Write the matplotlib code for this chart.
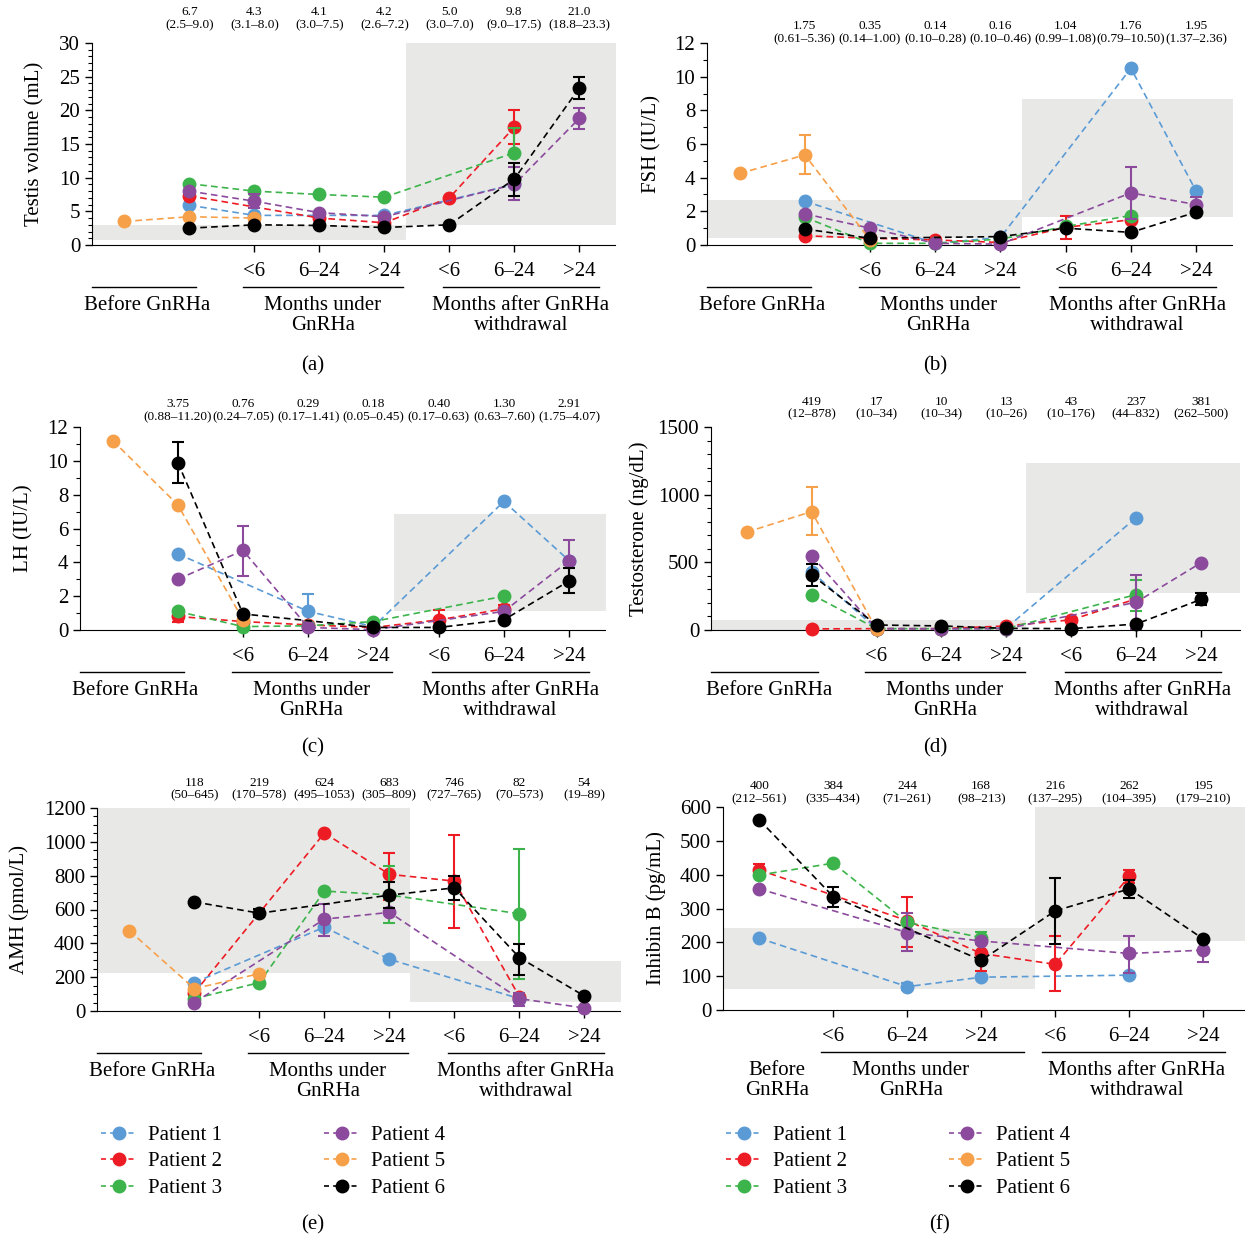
import matplotlib.pyplot as plt
import matplotlib.transforms as mtransforms
from matplotlib.lines import Line2D
from matplotlib.ticker import MultipleLocator

plt.rcParams['font.family'] = ['Liberation Serif', 'DejaVu Serif']

W, H = 1245, 1240

positions = [0, 1, 2, 3, 4, 5, 6, 7]
tick_pos = [2, 3, 4, 5, 6, 7]
tick_labels = ["<6", "6–24", ">24", "<6", "6–24", ">24"]
patients = ["Patient 1", "Patient 2", "Patient 3", "Patient 4", "Patient 5", "Patient 6"]
colors = ["#5b9bd5", "#ed1c24", "#3cb44b", "#8b4a9c", "#f7a04a", "#000000"]

N = None

# ---------- (a) testis volume ----------
testis_vol = [
    [N, 5.9, 4.4, N, 4.4, N, 9.0, N],
    [N, 7.3, N, 4.0, 3.3, 7.0, 17.5, N],
    [N, 9.1, 8.0, 7.5, 7.1, N, 13.7, N],
    [N, 8.0, 6.5, 4.8, 4.2, N, 9.0, 18.8],
    [3.5, 4.2, 4.0, N, N, N, N, N],
    [N, 2.5, 3.0, 2.9, 2.6, 3.0, 9.8, 23.3],
]
testis_err = [(1, 6, 15.0, 20.0), (2, 6, 13.7, 17.4), (3, 2, 5.5, 7.6), (3, 6, 6.7, 11.6),
              (3, 7, 17.3, 20.3), (5, 6, 7.3, 12.2), (5, 7, 21.7, 25.0)]
testis_summary = ["6.7\n(2.5–9.0)", "4.3\n(3.1–8.0)", "4.1\n(3.0–7.5)", "4.2\n(2.6–7.2)",
                  "5.0\n(3.0–7.0)", "9.8\n(9.0–17.5)", "21.0\n(18.8–23.3)"]
testis_ref = [(-0.5, 4.33, 0.7, 3.0), (4.33, 7.6, 2.9, 30)]

# ---------- (b) FSH ----------
fsh = [
    [N, 2.6, N, 0.1, 0.45, N, 10.5, 3.2],
    [N, 0.55, 0.4, 0.3, 0.15, 1.05, 1.5, N],
    [N, 1.65, 0.1, 0.1, 0.35, 1.1, 1.75, N],
    [N, 1.85, 1.0, 0.1, 0.05, N, 3.1, 2.4],
    [4.25, 5.35, 0.3, N, N, N, N, N],
    [N, 0.95, 0.4, N, 0.5, 1.0, 0.75, 1.95],
]
fsh_err = [(4, 1, 4.2, 6.55), (1, 5, 0.35, 1.75), (3, 6, 1.55, 4.65), (3, 7, 2.0, 2.85)]
fsh_summary = ["1.75\n(0.61–5.36)", "0.35\n(0.14–1.00)", "0.14\n(0.10–0.28)", "0.16\n(0.10–0.46)",
               "1.04\n(0.99–1.08)", "1.76\n(0.79–10.50)", "1.95\n(1.37–2.36)"]
fsh_ref = [(-0.5, 4.33, 0.4, 2.7), (4.33, 7.6, 1.65, 8.65)]

# ---------- (c) LH ----------
lh = [
    [N, 4.5, N, 1.1, 0.2, N, 7.6, 4.1],
    [N, 0.8, 0.5, 0.3, 0.15, 0.6, 1.25, N],
    [N, 1.1, 0.2, 0.25, 0.5, N, 2.0, N],
    [N, 3.0, 4.7, 0.15, 0.02, N, 1.1, 4.1],
    [11.2, 7.4, 0.6, N, N, N, N, N],
    [N, 9.9, 0.95, N, 0.15, 0.15, 0.6, 2.9],
]
lh_err = [(5, 1, 8.7, 11.1), (5, 7, 2.2, 3.65), (3, 2, 3.2, 6.15), (3, 7, 2.9, 5.3),
          (0, 3, 0.15, 2.1), (1, 1, 0.5, 1.1), (1, 5, 0.1, 1.2), (1, 6, 1.05, 1.5)]
lh_summary = ["3.75\n(0.88–11.20)", "0.76\n(0.24–7.05)", "0.29\n(0.17–1.41)", "0.18\n(0.05–0.45)",
              "0.40\n(0.17–0.63)", "1.30\n(0.63–7.60)", "2.91\n(1.75–4.07)"]
lh_ref = [(4.31, 7.6, 1.15, 6.85)]

# ---------- (d) testosterone ----------
testo = [
    [N, 430, 10, 10, 15, N, 830, N],
    [N, 8, 10, 10, 30, 75, 230, N],
    [N, 262, 10, 10, 10, N, 262, N],
    [N, 548, 10, 8, 10, N, 205, 497],
    [723, 875, 5, N, N, N, N, N],
    [N, 408, 37, 30, 12, 10, 44, 226],
]
testo_err = [(4, 1, 700, 1055), (5, 1, 325, 490), (5, 7, 185, 275), (3, 6, 10, 405), (2, 6, 140, 370)]
testo_summary = ["419\n(12–878)", "17\n(10–34)", "10\n(10–34)", "13\n(10–26)",
                 "43\n(10–176)", "237\n(44–832)", "381\n(262–500)"]
testo_ref = [(-0.55, 4.3, 0, 75), (4.3, 7.6, 270, 1237)]

# ---------- (e) AMH ----------
amh = [
    [N, 168, N, 496, 306, N, 73, N],
    [N, 108, N, 1052, 808, 768, 85, N],
    [N, 73, 168, 709, 686, N, 575, N],
    [N, 50, N, 543, 583, N, 73, 18],
    [474, 132, 221, N, N, N, N, N],
    [N, 645, 578, N, 685, 728, 316, 89],
]
amh_err = [(5, 2, 555, 605), (5, 4, 610, 760), (5, 5, 655, 800), (5, 6, 215, 395),
           (1, 4, 655, 935), (1, 5, 490, 1040), (2, 4, 520, 855), (2, 6, 190, 955),
           (3, 3, 445, 635), (3, 6, 30, 105)]
amh_summary = ["118\n(50–645)", "219\n(170–578)", "624\n(495–1053)", "683\n(305–809)",
               "746\n(727–765)", "82\n(70–573)", "54\n(19–89)"]
amh_ref = [(-0.5, 4.32, 223, 1200), (4.32, 7.6, 53, 294)]

# ---------- (f) inhibin B ----------
inhb = [
    [N, 212, N, 69, 97, N, 103, N],
    [N, 414, N, 264, 167, 135, 395, N],
    [N, 399, 434, 259, 214, N, N, N],
    [N, 358, N, 229, 204, N, 167, 177],
    [N, N, N, N, N, N, N, N],
    [N, 562, 335, N, 147, 293, 358, 210],
]
inhb_err = [(5, 2, 305, 365), (5, 5, 195, 390), (5, 6, 332, 383), (1, 1, 400, 432),
            (1, 3, 185, 335), (1, 4, 115, 168), (1, 5, 55, 218), (1, 6, 375, 415),
            (3, 3, 175, 288), (3, 6, 110, 220), (3, 7, 143, 180), (2, 4, 195, 232), (0, 3, 58, 80)]
inhb_summary = ["400\n(212–561)", "384\n(335–434)", "244\n(71–261)", "168\n(98–213)",
                "216\n(137–295)", "262\n(104–395)", "195\n(179–210)"]
inhb_ref = [(0.5, 4.73, 62, 243), (4.73, 7.6, 205, 600)]


fig = plt.figure(figsize=(W / 100, H / 100), dpi=100)


def make_axes(left, top, right, bottom):
    return fig.add_axes([left / W, 1 - bottom / H, (right - left) / W, (bottom - top) / H])


def panel(box, rows, errs, summary, refs, ylabel, ylim, major, minor, xlim, ylab_x, summ_off,
          before_at=0.35):
    ax = make_axes(*box)
    h_px = box[3] - box[1]
    for x0, x1, y0, y1 in refs:
        ax.fill_between([x0, x1], y0, y1, color="#e8e8e6", lw=0, zorder=0)
    for i, row in enumerate(rows):
        xs = [p for p, v in zip(positions, row) if v is not None]
        ys = [v for v in row if v is not None]
        if not xs:
            continue
        ax.plot(xs, ys, ls=(0, (4, 2.5)), lw=1.2, color=colors[i], marker='o', ms=9,
                zorder=3 + i, clip_on=False)
    for i, p, lo, hi in errs:
        v = rows[i][p]
        ax.errorbar(p, v, yerr=[[v - lo], [hi - v]], fmt='none', ecolor=colors[i],
                    elinewidth=1.5, capsize=4.5, capthick=1.5, zorder=3 + i)
    ax.set_xlim(*xlim)
    ax.set_ylim(*ylim)
    ax.yaxis.set_major_locator(MultipleLocator(major))
    if minor:
        ax.yaxis.set_minor_locator(MultipleLocator(minor))
    ax.set_xticks(tick_pos)
    ax.set_xticklabels(tick_labels, fontsize=15)
    ax.tick_params(axis='y', labelsize=15, length=5, width=1)
    ax.tick_params(axis='y', which='minor', length=3, width=0.8)
    ax.tick_params(axis='x', length=5, width=1, pad=7)
    for s in ['top', 'right']:
        ax.spines[s].set_visible(False)
    ax.set_ylabel(ylabel, fontsize=15)
    ax.yaxis.set_label_coords((ylab_x - box[0]) / (box[2] - box[0]), 0.5)

    trans = mtransforms.blended_transform_factory(ax.transData, ax.transAxes)
    for p, s in zip(range(1, 8), summary):
        ax.text(p, 1 + summ_off / h_px, s, transform=trans, ha='center', va='center',
                fontsize=9.5, linespacing=1.1)

    y_line = -42 / h_px
    y_txt = -51 / h_px
    if before_at < 1:
        ax.plot([xlim[0], 1.1], [y_line, y_line], transform=trans, color='black', lw=1, clip_on=False)
        ax.text(before_at, y_txt, "Before GnRHa", transform=trans, ha='center', va='top', fontsize=15)
        under_end, after_start = 4.29, 4.9
    else:
        ax.text(before_at, y_txt, "Before\nGnRHa", transform=trans, ha='center', va='top', fontsize=15,
                linespacing=1.05)
        under_end, after_start = 4.58, 4.82
    ax.plot([1.83, under_end], [y_line, y_line], transform=trans, color='black', lw=1, clip_on=False)
    ax.plot([after_start, 7.3], [y_line, y_line], transform=trans, color='black', lw=1, clip_on=False)
    ax.text(3.05, y_txt, "Months under\nGnRHa", transform=trans, ha='center', va='top', fontsize=15,
            linespacing=1.05)
    ax.text(6.1, y_txt, "Months after GnRHa\nwithdrawal", transform=trans, ha='center', va='top', fontsize=15,
            linespacing=1.05)
    return ax


panel((92, 43, 615, 245), testis_vol, testis_err, testis_summary, testis_ref,
      "Testis volume (mL)", (0, 30), 5, 1, (-0.5, 7.55), 44, 24.5)
panel((707, 43, 1232, 245), fsh, fsh_err, fsh_summary, fsh_ref,
      "FSH (IU/L)", (0, 12), 2, 1, (-0.5, 7.55), 661, 10.5)
panel((80, 427, 605, 630), lh, lh_err, lh_summary, lh_ref,
      "LH (IU/L)", (0, 12), 2, 1, (-0.5, 7.55), 33, 16.5)
panel((711, 427, 1240, 630), testo, testo_err, testo_summary, testo_ref,
      "Testosterone (ng/dL)", (0, 1500), 500, 100, (-0.55, 7.6), 649, 19)
panel((97, 808, 620, 1011), amh, amh_err, amh_summary, amh_ref,
      "AMH (pmol/L)", (0, 1200), 200, 50, (-0.5, 7.55), 29, 19)
panel((723, 807, 1244, 1010), inhb, inhb_err, inhb_summary, inhb_ref,
      "Inhibin B (pg/mL)", (0, 600), 100, None, (0.51, 7.55), 666, 14.5, before_at=1.24)

# legends
handles = [Line2D([], [], ls=(0, (3, 2.5)), lw=1.2, color=c, marker='o', ms=9) for c in colors]
for x in (93, 718):
    fig.legend(handles, patients, loc='upper left', bbox_to_anchor=(x / W, 1 - 1117 / H), ncol=2,
               frameon=False, fontsize=15, handlelength=1.7, handletextpad=0.55, columnspacing=4.9,
               labelspacing=0.33, numpoints=1, borderaxespad=0)

for lab, x, y in [("(a)", 313, 366), ("(b)", 935, 366), ("(c)", 313, 748),
                  ("(d)", 935, 748), ("(e)", 313, 1225), ("(f)", 940, 1225)]:
    fig.text(x / W, 1 - y / H, lab, ha='center', va='center', fontsize=15)

fig.savefig("out.png", dpi=100)
